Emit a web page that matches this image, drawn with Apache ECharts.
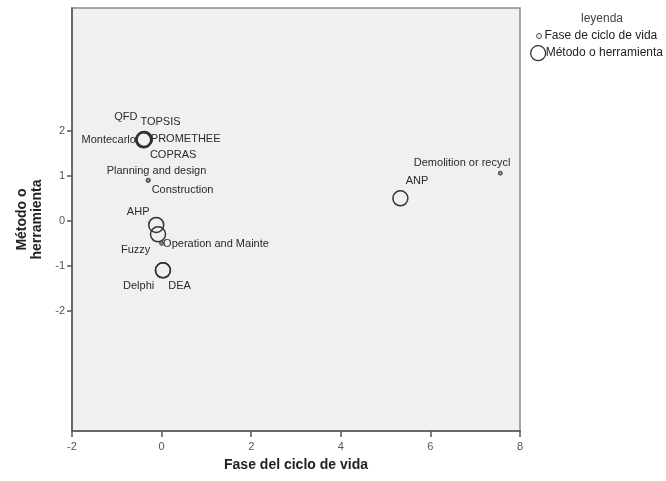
<!DOCTYPE html>
<html>
<head>
<meta charset="utf-8">
<script src="https://cdn.jsdelivr.net/npm/echarts@6/dist/echarts.min.js"></script>
<style>
    html, body { margin: 0; padding: 0; background: #fff; }
    #chart { width: 666px; height: 481px; }
</style>
</head>
<body>
<div id="chart"></div>
<script>
// Life-cycle phases (small points)
const phaseNames = ['Planning and design', 'Construction', 'Operation and Mainte', 'Demolition or recycl'];
const phaseX = [-0.30, -0.30, 0.00, 7.56];
const phaseY = [0.90, 0.90, -0.50, 1.06];

// Methods / tools (large circles)
const methodNames = ['QFD', 'TOPSIS', 'Montecarlo', 'PROMETHEE', 'COPRAS', 'AHP', 'Fuzzy', 'Delphi', 'DEA', 'ANP'];
const methodX = [-0.41, -0.39, -0.40, -0.38, -0.40, -0.12, -0.08, 0.03, 0.03, 5.33];
const methodY = [1.80, 1.82, 1.79, 1.81, 1.80, -0.09, -0.30, -1.10, -1.10, 0.50];

const xTicks = [-2, 0, 2, 4, 6, 8];
const yTicks = [-2, -1, 0, 1, 2];

// label placement: [align, dx, dy] from the point centre
const labelPlacement = {
    'QFD': ['right', -5, -22],
    'TOPSIS': ['left', -3, -16],
    'Montecarlo': ['right', -7, 0],
    'PROMETHEE': ['left', 7, 0],
    'COPRAS': ['left', 7, 16],
    'AHP': ['right', -6, -12],
    'Fuzzy': ['right', -7, 16],
    'Delphi': ['right', -8, 16],
    'DEA': ['left', 6, 16],
    'ANP': ['left', 6, -17],
    'Planning and design': ['left', -41, -9],
    'Construction': ['left', 4, 10],
    'Operation and Mainte': ['left', 2, 1],
    'Demolition or recycl': ['left', -86, -10]
};

const font = '"Liberation Sans", Arial, sans-serif';
const phaseSize = 4;
const methodSize = 15;

function buildPoints(names, xs, ys, size) {
    return names.map((name, i) => {
        const p = labelPlacement[name];
        return {
            name: name,
            value: [xs[i], ys[i]],
            label: {
                show: true,
                formatter: name,
                position: [size / 2 + p[1], size / 2 + p[2]],
                align: p[0],
                verticalAlign: 'middle'
            }
        };
    });
}

const chart = echarts.init(document.getElementById('chart'), null, { renderer: 'canvas' });

const labelStyle = { color: '#2a2a2a', fontSize: 11, fontFamily: font };

chart.setOption({
    animation: false,
    textStyle: { fontFamily: font },
    title: {
        text: 'leyenda',
        left: 597,
        top: 8,
        textAlign: 'center',
        textStyle: { fontSize: 12, fontWeight: 'normal', color: '#444', fontFamily: font }
    },
    legend: [
        {
            data: ['Fase de ciclo de vida'],
            left: 536,
            top: 30,
            padding: 0,
            itemWidth: 5,
            itemHeight: 5,
            icon: 'circle',
            itemStyle: { color: '#f0f0f0', borderColor: '#555', borderWidth: 1 },
            textStyle: { fontSize: 12, color: '#222', fontFamily: font, padding: [0, 0, 0, -2] }
        },
        {
            data: ['Método o herramienta'],
            left: 530,
            top: 45,
            padding: 0,
            itemWidth: 15,
            itemHeight: 15,
            icon: 'circle',
            itemStyle: { color: '#fff', borderColor: '#333', borderWidth: 1.3 },
            textStyle: { fontSize: 12, color: '#222', fontFamily: font, padding: [0, 0, 0, -5] }
        }
    ],
    grid: {
        left: 72,
        right: 146,
        top: 8,
        bottom: 50,
        show: true,
        backgroundColor: '#f0f0f0',
        borderColor: '#8a8a8a',
        borderWidth: 1.5
    },
    xAxis: {
        type: 'value',
        min: -2,
        max: 8,
        interval: 2,
        name: 'Fase del ciclo de vida',
        nameLocation: 'middle',
        nameGap: 27,
        nameTextStyle: { fontSize: 14, fontWeight: 'bold', color: '#222', fontFamily: font },
        axisLine: { show: true, onZero: false, lineStyle: { color: '#555', width: 1.5 } },
        axisTick: { show: true, length: 6, lineStyle: { color: '#555', width: 1.5 } },
        axisLabel: {
            color: '#555',
            fontSize: 11,
            margin: 10,
            customValues: xTicks
        },
        splitLine: { show: false }
    },
    yAxis: {
        type: 'value',
        min: -4.67,
        max: 4.73,
        name: 'Método o\nherramienta',
        nameLocation: 'middle',
        nameRotate: 90,
        nameGap: 27,
        nameTextStyle: { fontSize: 14, fontWeight: 'bold', color: '#222', fontFamily: font, lineHeight: 15, align: 'center' },
        axisLine: { show: true, onZero: false, lineStyle: { color: '#555', width: 1.5 } },
        axisTick: { show: true, length: 5, customValues: yTicks, lineStyle: { color: '#555', width: 1.5 } },
        axisLabel: {
            color: '#555',
            fontSize: 11,
            margin: 7,
            customValues: yTicks
        },
        splitLine: { show: false }
    },
    series: [
        {
            name: 'Fase de ciclo de vida',
            type: 'scatter',
            symbol: 'circle',
            symbolSize: phaseSize,
            itemStyle: { color: '#888', borderColor: '#444', borderWidth: 1, opacity: 1 },
            label: labelStyle,
            labelLayout: { hideOverlap: false },
            data: buildPoints(phaseNames, phaseX, phaseY, phaseSize),
            z: 3
        },
        {
            name: 'Método o herramienta',
            type: 'scatter',
            symbol: 'circle',
            symbolSize: methodSize,
            itemStyle: { color: 'rgba(0,0,0,0)', borderColor: '#333', borderWidth: 1.5, opacity: 1 },
            label: labelStyle,
            labelLayout: { hideOverlap: false },
            data: buildPoints(methodNames, methodX, methodY, methodSize),
            z: 2
        }
    ]
});
</script>
</body>
</html>
